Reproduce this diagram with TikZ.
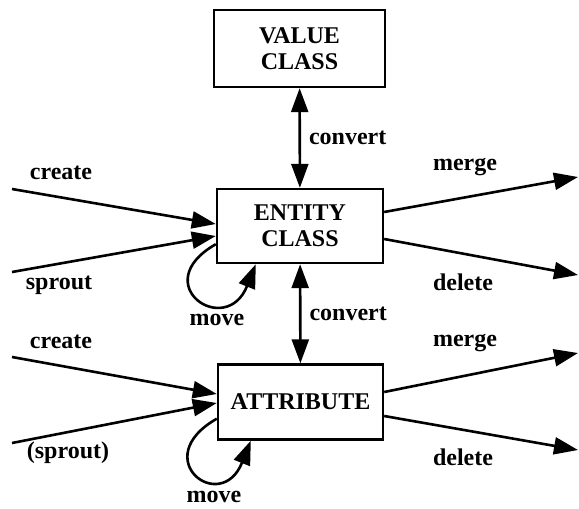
\documentclass[tikz,border=0pt]{standalone}
\usepackage{fontspec}
\setmainfont{Liberation Serif}
\usetikzlibrary{arrows.meta,calc}
\tikzset{classbox/.style={draw,line width=1.2pt,align=center,inner sep=0pt,
    font=\fontsize{12}{13}\selectfont\bfseries},
  flow/.style={line width=1.3pt,-{Triangle[length=12pt,width=8.5pt]}},
  twoway/.style={line width=1.3pt,{Triangle[length=12pt,width=8.5pt]}-{Triangle[length=12pt,width=8.5pt]}},
  lbl/.style={inner sep=0pt,font=\fontsize{12}{13}\selectfont\bfseries}}

\begin{document}
\begin{tikzpicture}[x=0.5pt,y=-0.5pt]
\useasboundingbox (0,0) rectangle (579,509);
% the three classes
\node[classbox,minimum width=85.5pt,minimum height=38.5pt] (val) at (299.5,48.5) {VALUE\\CLASS};
\node[classbox,minimum width=83pt,minimum height=37pt] (ent) at (300,226) {ENTITY\\CLASS};
\node[classbox,minimum width=82.5pt,minimum height=37.5pt] (att) at (300.5,402) {ATTRIBUTE};
% convert links
\draw[twoway] (val) -- node[lbl,right=4pt] {convert} (ent);
\draw[twoway] (ent) -- node[lbl,right=4pt] {convert} (att);
% free ends of the outer arrows
\coordinate (entcreate) at (12,189);
\coordinate (entsprout) at (12,272);
\coordinate (entmerge) at (578,177);
\coordinate (entdelete) at (578,275);
\coordinate (attcreate) at (12,357);
\coordinate (attsprout) at (12,443);
\coordinate (attmerge) at (578,353);
\coordinate (attdelete) at (578,450);
% entity class arrows
\draw[flow] (entcreate) -- ($(ent.west)+(0,-2)$);
\draw[flow] (entsprout) -- ($(ent.west)+(0,10)$);
\draw[flow] ($(ent.east)+(0,-14)$) -- (entmerge);
\draw[flow] ($(ent.east)+(0,13)$) -- (entdelete);
\draw[flow] ($(ent.south west)+(0,-20)$) .. controls +(-70,40) and +(-30,75) .. ($(ent.south west)+(40,0)$);
\node[lbl] at (61,173) {create};
\node[lbl] at (59,285) {sprout};
\node[lbl] at (465,167) {merge};
\node[lbl] at (463,282) {delete};
\node[lbl] at (217,320) {move};
% attribute arrows
\draw[flow] (attcreate) -- ($(att.west)+(0,-8)$);
\draw[flow] (attsprout) -- ($(att.west)+(0,1)$);
\draw[flow] ($(att.east)+(0,-10)$) -- (attmerge);
\draw[flow] ($(att.east)+(0,14)$) -- (attdelete);
\draw[flow] ($(att.south west)+(0,-22)$) .. controls +(-70,40) and +(-30,75) .. ($(att.south west)+(34,0)$);
\node[lbl] at (61,342) {create};
\node[lbl] at (68,453) {(sprout)};
\node[lbl] at (465,343) {merge};
\node[lbl] at (463,457) {delete};
\node[lbl] at (214,497) {move};
\end{tikzpicture}
\end{document}
